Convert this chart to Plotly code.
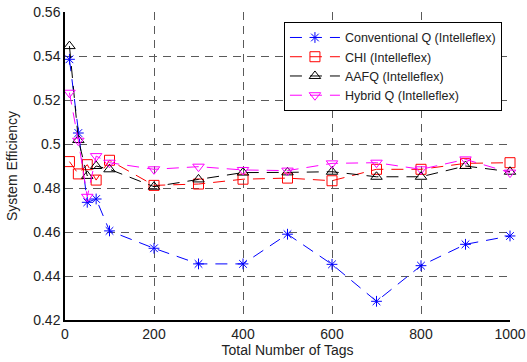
import plotly.graph_objects as go

x_tags = [10, 30, 50, 70, 100, 200, 300, 400, 500, 600, 700, 800, 900, 1000]

conventional_q = [0.5385, 0.5050, 0.4735, 0.4750, 0.4605, 0.4526, 0.4455, 0.4455,
                  0.4590, 0.4453, 0.4285, 0.4447, 0.4544, 0.4582]
chi = [0.4920, 0.4864, 0.4906, 0.4836, 0.4926, 0.4812, 0.4818, 0.4840,
       0.4845, 0.4833, 0.4885, 0.4885, 0.4912, 0.4915]
aafq = [0.5445, 0.5018, 0.4855, 0.4900, 0.4885, 0.4806, 0.4839, 0.4870,
        0.4871, 0.4874, 0.4851, 0.4851, 0.4900, 0.4874]
hybrid_q = [0.5233, 0.5015, 0.4760, 0.4945, 0.4915, 0.4885, 0.4897, 0.4882,
            0.4879, 0.4912, 0.4915, 0.4885, 0.4930, 0.4870]

series_names = ["Conventional Q (Intelleflex)", "CHI (Intelleflex)",
                "AAFQ (Intelleflex)", "Hybrid Q (Intelleflex)"]
series_values = [conventional_q, chi, aafq, hybrid_q]
colors = ["#0000ff", "#ff0000", "#000000", "#ff00ff"]
symbols = ["asterisk-open", "square-open", "triangle-up-open", "triangle-down-open"]
sizes = [9, 10, 10, 10]

x_ticks = [0, 200, 400, 600, 800, 1000]
y_ticks = [0.42, 0.44, 0.46, 0.48, 0.50, 0.52, 0.54, 0.56]
y_tick_labels = ["0.42", "0.44", "0.46", "0.48", "0.5", "0.52", "0.54", "0.56"]

fig = go.Figure()
for name, vals, c, s, sz in zip(series_names, series_values, colors, symbols, sizes):
    fig.add_trace(go.Scatter(
        x=x_tags, y=vals, name=name, mode="lines+markers",
        line=dict(color=c, width=1, dash="12px,8px"),
        marker=dict(symbol=s, size=sz, color=c, line=dict(width=1, color=c)),
        cliponaxis=False,
    ))

font_family = "Liberation Sans, Arial, Helvetica, sans-serif"
fig.update_layout(
    width=527, height=362,
    margin=dict(l=65, r=17, t=12, b=42, autoexpand=False),
    paper_bgcolor="white", plot_bgcolor="white",
    font=dict(family=font_family, size=14, color="#222222"),
    showlegend=True,
    legend=dict(
        x=0.492, y=0.968, xanchor="left", yanchor="top",
        bgcolor="white", bordercolor="black", borderwidth=1,
        font=dict(size=12.5, color="#222222"),
        itemwidth=50, tracegroupgap=0,
    ),
    xaxis=dict(
        range=[0, 1000], tickvals=x_ticks, showgrid=True, automargin=False,
        gridcolor="#5a5a5a", griddash="8px,6px", gridwidth=1.2,
        showline=True, linecolor="black", linewidth=1.5, mirror=False,
        zeroline=False, ticks="", tickfont=dict(size=14),
        title=dict(text="Total Number of Tags", font=dict(size=14), standoff=4),
    ),
    yaxis=dict(
        range=[0.42, 0.56], tickvals=y_ticks, ticktext=y_tick_labels, showgrid=True,
        automargin=False,
        gridcolor="#5a5a5a", griddash="8px,6px", gridwidth=1.2,
        showline=True, linecolor="black", linewidth=1.5, mirror=False,
        zeroline=False, ticks="", tickfont=dict(size=14),
        title=dict(text="System Efficiency", font=dict(size=14), standoff=12),
    ),
)

fig.write_html("out.html")
